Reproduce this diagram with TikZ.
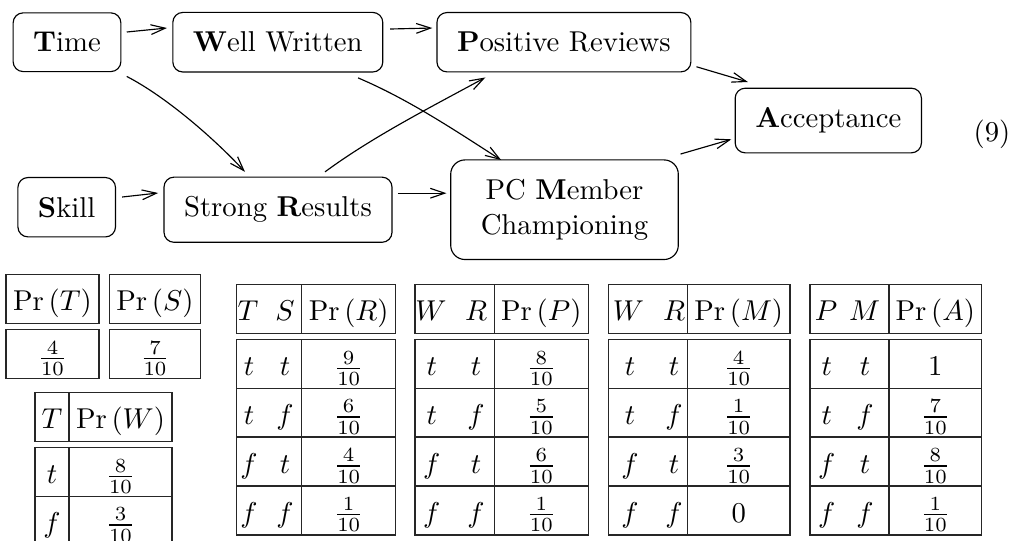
\documentclass[tikz,border=0pt]{standalone}
\usepackage{amsmath}
\usetikzlibrary{arrows.meta}
\begin{document}
\begin{tikzpicture}[x=0.3484pt, y=-0.3484pt,
  bn/.style={draw, rounded corners=3.5pt, inner xsep=7pt, inner ysep=6.8pt, align=center},
  arr/.style={-{Straight Barb[length=5pt,width=3.4pt]}},
  tx/.style={anchor=base, inner sep=0pt},
  cell/.style={line width=0.45pt, draw=black!85}]
\useasboundingbox (0,0) rectangle (1013,540);
\clip (0,0) rectangle (1013,540);

% ---- network ----
\node[bn] (T) at (67,42.2) {\textbf{T}ime};
\node[bn] (W) at (277.8,42.2) {\textbf{W}ell Written};
\node[bn] (P) at (563.9,42.2) {\textbf{P}ositive Reviews};
\node[bn] (A) at (828.3,120.5) {\textbf{A}cceptance};
\node[bn] (S) at (66.7,207.2) {\textbf{S}kill};
\node[bn] (R) at (278,209.7) {Strong \textbf{R}esults};
\node[bn, rounded corners=5pt, minimum width=79.3pt] (M) at (564.5,209.7) {PC \textbf{M}ember\\Championing};
\node (eq) at (992,134) {(9)};

\draw[arr] ([shift={(5.3,-10.2)}]T.east) -- ([shift={(-5.3,-14.2)}]W.west);
\draw[arr] ([shift={(6.7,-13.2)}]W.east) -- ([shift={(-4,-14.2)}]P.west);
\draw[arr] ([shift={(5.3,4.3)}]T.south east) .. controls +(40,20.7) and +(-30.6,-33) .. ([shift={(-33,-4.7)}]R.north);
\draw[arr] ([shift={(-25.3,5.3)}]W.south east) .. controls +(50.6,21.5) and +(-46.2,-29.7) .. ([shift={(51,0.7)}]M.north west);
\draw[arr] ([shift={(47,-4.7)}]R.north) .. controls +(48,-35.4) and +(-52.8,28.8) .. ([shift={(49,5)}]P.south west);
\draw[arr] ([shift={(6,-10.2)}]S.east) -- ([shift={(-5.3,-16.7)}]R.west);
\draw[arr] ([shift={(5.3,-16.5)}]R.east) -- ([shift={(-3.7,-16.5)}]M.west);
\draw[arr] ([shift={(5,-5.7)}]P.south east) -- ([shift={(13.3,-5.6)}]A.north west);
\draw[arr] ([shift={(1.7,-5.3)}]M.north east) -- ([shift={(-3.3,18.8)}]A.west);

% ---- priors Pr(T), Pr(S) ----
\draw[cell] (6,274.3) rectangle (99,323.3);
\draw[cell] (6,329.3) rectangle (99,378.3);
\draw[cell] (109.3,274.3) rectangle (200.7,323.3);
\draw[cell] (109.3,329.3) rectangle (200.7,378.3);
\node[tx] (pt-h) at (52.5,310.3) {$\Pr\left(T\right)$};
\node[tx] (pt-v) at (52.5,365.3) {$\frac{4}{10}$};
\node[tx] (ps-h) at (155,310.3) {$\Pr\left(S\right)$};
\node[tx] (ps-v) at (155,365.3) {$\frac{7}{10}$};

% ---- Pr(W | T) ----
\draw[cell] (35,392.3) rectangle (172,441.2);
\draw[cell] (69,392.3) -- (69,441.2);
\draw[cell] (35,447.3) rectangle (172,545.1);
\draw[cell] (69,447.3) -- (69,545.1);
\draw[cell] (35,496.2) -- (172,496.2);
\node[tx] (pw-a) at (52,428.3) {$T$};
\node[tx] (pw-h) at (120.5,428.3) {$\Pr\left(W\right)$};
\node[tx] (pw-a1) at (52,483.3) {$t$};
\node[tx] (pw-v1) at (120.5,483.3) {$\frac{8}{10}$};
\node[tx] (pw-a2) at (52,532.2) {$f$};
\node[tx] (pw-v2) at (120.5,532.2) {$\frac{3}{10}$};

% ---- two-parent tables: frame(left, divider, right) ----
\newcommand\cptframe[3]{%
  \draw[cell] (#1,284.7) rectangle (#3,333.3);
  \draw[cell] (#2,284.7) -- (#2,333.3);
  \draw[cell] (#1,339.3) rectangle (#3,535);
  \draw[cell] (#2,339.3) -- (#2,535);
  \foreach \yy in {388.2,437.1,486} \draw[cell] (#1,\yy) -- (#3,\yy);
}

% Pr(R | T,S)
\cptframe{236.7}{301.7}{395.7}
\node[tx] (r-ha) at (248,320.7) {$T$};
\node[tx] (r-hb) at (285,320.7) {$S$};
\node[tx] (r-h) at (348.7,320.7) {$\Pr\left(R\right)$};
\foreach \a/\b/\v [count=\i] in {t/t/\frac{9}{10},t/f/\frac{6}{10},f/t/\frac{4}{10},f/f/\frac{1}{10}}{
  \pgfmathsetmacro\yb{375.3+(\i-1)*48.9}
  \node[tx] (r-a\i) at (249,\yb) {$\a$};
  \node[tx] (r-b\i) at (285,\yb) {$\b$};
  \node[tx] (r-v\i) at (348.7,\yb) {$\v$};
}

% Pr(P | W,R)
\cptframe{415}{494.3}{588.3}
\node[tx] (p-ha) at (431,320.7) {$W$};
\node[tx] (p-hb) at (476,320.7) {$R$};
\node[tx] (p-h) at (541.3,320.7) {$\Pr\left(P\right)$};
\foreach \a/\b/\v [count=\i] in {t/t/\frac{8}{10},t/f/\frac{5}{10},f/t/\frac{6}{10},f/f/\frac{1}{10}}{
  \pgfmathsetmacro\yb{375.3+(\i-1)*48.9}
  \node[tx] (p-a\i) at (431.7,\yb) {$\a$};
  \node[tx] (p-b\i) at (476,\yb) {$\b$};
  \node[tx] (p-v\i) at (541.3,\yb) {$\v$};
}

% Pr(M | W,R)
\cptframe{608.3}{687.3}{790}
\node[tx] (m-ha) at (628.5,320.7) {$W$};
\node[tx] (m-hb) at (674,320.7) {$R$};
\node[tx] (m-h) at (738.7,320.7) {$\Pr\left(M\right)$};
\foreach \a/\b/\v [count=\i] in {t/t/\frac{4}{10},t/f/\frac{1}{10},f/t/\frac{3}{10},f/f/0}{
  \pgfmathsetmacro\yb{375.3+(\i-1)*48.9}
  \node[tx] (m-a\i) at (630,\yb) {$\a$};
  \node[tx] (m-b\i) at (674,\yb) {$\b$};
  \node[tx] (m-v\i) at (738.7,\yb) {$\v$};
}

% Pr(A | P,M)
\cptframe{810}{889}{981.7}
\node[tx] (a-ha) at (826,320.7) {$P$};
\node[tx] (a-hb) at (864.5,320.7) {$M$};
\node[tx] (a-h) at (935.3,320.7) {$\Pr\left(A\right)$};
\foreach \a/\b/\v [count=\i] in {t/t/1,t/f/\frac{7}{10},f/t/\frac{8}{10},f/f/\frac{1}{10}}{
  \pgfmathsetmacro\yb{375.3+(\i-1)*48.9}
  \node[tx] (a-a\i) at (826.7,\yb) {$\a$};
  \node[tx] (a-b\i) at (865,\yb) {$\b$};
  \node[tx] (a-v\i) at (935.3,\yb) {$\v$};
}
\end{tikzpicture}
\end{document}
